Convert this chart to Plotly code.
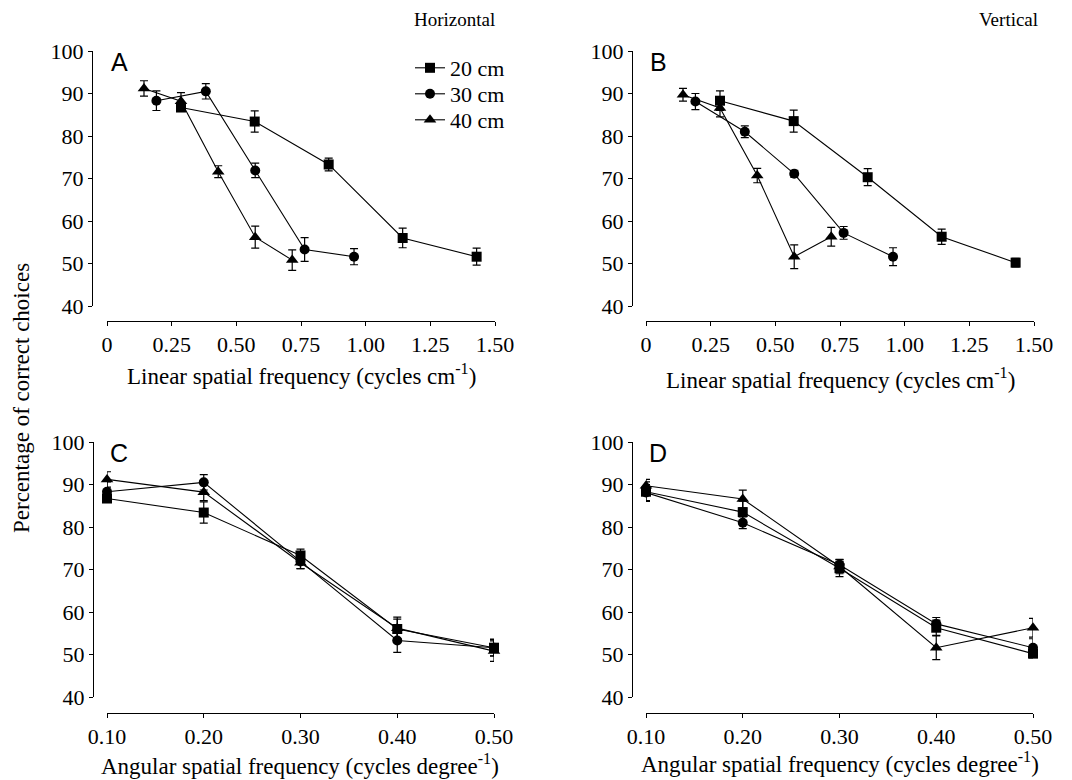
import plotly.graph_objects as go

W, H = 1072, 780
OFF = 8  # page body margin of the html page

# ---------------- data ----------------
distances = ["20 cm", "30 cm", "40 cm"]
symbols = ["square", "circle", "triangle-up"]

angular_freq = [0.10, 0.20, 0.30, 0.40, 0.50]
linear_freq_20 = [0.286, 0.571, 0.857, 1.143, 1.429]
linear_freq_30 = [0.191, 0.382, 0.573, 0.764, 0.955]
linear_freq_40 = [0.143, 0.286, 0.430, 0.573, 0.716]

horiz_20 = [86.7, 83.4, 73.3, 56.0, 51.6]
horiz_20_err = [0.8, 2.5, 1.5, 2.3, 2.0]
horiz_30 = [88.3, 90.5, 71.9, 53.3, 51.6]
horiz_30_err = [2.3, 1.8, 1.7, 2.8, 1.9]
horiz_40 = [91.2, 88.2, 71.6, 56.2, 50.8]
horiz_40_err = [1.8, 2.0, 1.4, 2.6, 2.4]

vert_20 = [88.3, 83.5, 70.3, 56.3, 50.2]
vert_20_err = [2.3, 2.6, 2.0, 1.8, 1.0]
vert_30 = [88.1, 81.0, 71.1, 57.2, 51.6]
vert_30_err = [1.9, 1.4, 0.8, 1.5, 2.1]
vert_40 = [89.7, 86.6, 70.7, 51.6, 56.3]
vert_40_err = [1.5, 2.1, 1.7, 2.8, 2.2]

linear_ticks = [0, 0.25, 0.5, 0.75, 1.0, 1.25, 1.5]
linear_ticktext = ["0", "0.25", "0.50", "0.75", "1.00", "1.25", "1.50"]
angular_ticks = [0.1, 0.2, 0.3, 0.4, 0.5]
angular_ticktext = ["0.10", "0.20", "0.30", "0.40", "0.50"]
y_ticks = [40, 50, 60, 70, 80, 90, 100]

# ---------------- layout helpers ----------------
SERIF = "Liberation Serif, Times New Roman, serif"
SANS = "Liberation Sans, Arial, sans-serif"
TICK_SIZE = 22
TITLE_SIZE = 23


def px(x):
    return (x - OFF) / W


def py(y):
    return 1 - (y - OFF) / H


fig = go.Figure()

panels = [
    ("A", [linear_freq_20, linear_freq_30, linear_freq_40],
     [horiz_20, horiz_30, horiz_40], [horiz_20_err, horiz_30_err, horiz_40_err],
     (107, 495), (51, 306), 92, 321, [0, 1.5], linear_ticks, linear_ticktext),
    ("B", [linear_freq_20, linear_freq_30, linear_freq_40],
     [vert_20, vert_30, vert_40], [vert_20_err, vert_30_err, vert_40_err],
     (646, 1034), (51, 306), 632, 321, [0, 1.5], linear_ticks, linear_ticktext),
    ("C", [angular_freq] * 3,
     [horiz_20, horiz_30, horiz_40], [horiz_20_err, horiz_30_err, horiz_40_err],
     (107, 494), (442, 697), 93, 713, [0.1, 0.5], angular_ticks, angular_ticktext),
    ("D", [angular_freq] * 3,
     [vert_20, vert_30, vert_40], [vert_20_err, vert_30_err, vert_40_err],
     (646, 1033), (442, 697), 632, 713, [0.1, 0.5], angular_ticks, angular_ticktext),
]

legend_names = ["legend", "legend2", "legend3"]
legend_rows = [68, 94, 120]

layout_axes = {}
annotations = []
for i, (name, xs_list, ys_list, errs_list, (x0, x1), (y0, y1), yaxpos, xaxpos,
        xrange_, xt, xtt) in enumerate(panels):
    k = "" if i == 0 else str(i + 1)
    for j in range(3):
        fig.add_trace(go.Scatter(
            x=xs_list[j], y=ys_list[j],
            mode="lines+markers",
            name=distances[j],
            legend=legend_names[j],
            showlegend=(i == 0),
            xaxis="x" + k, yaxis="y" + k,
            line=dict(color="black", width=1.1),
            marker=dict(symbol=symbols[j], size=10 if j != 2 else 11, color="black",
                        line=dict(width=0)),
            error_y=dict(type="data", array=errs_list[j], visible=True,
                         color="black", thickness=1.2, width=4),
            cliponaxis=False,
        ))
    layout_axes["xaxis" + k] = dict(
        domain=[px(x0), px(x1)], anchor="free", position=py(xaxpos),
        range=xrange_, tickvals=xt, ticktext=xtt, automargin=False,
        showline=True, linecolor="black", linewidth=1,
        ticks="outside", ticklen=4, tickcolor="black", tickwidth=1,
        showgrid=False, zeroline=False,
        tickfont=dict(family=SERIF, size=TICK_SIZE, color="black"),
    )
    layout_axes["yaxis" + k] = dict(
        domain=[py(y1), py(y0)], anchor="free", position=px(yaxpos),
        range=[40, 100], tickvals=y_ticks, automargin=False,
        showline=True, linecolor="black", linewidth=1,
        ticks="outside", ticklen=4, tickcolor="black", tickwidth=1,
        showgrid=False, zeroline=False,
        tickfont=dict(family=SERIF, size=TICK_SIZE, color="black"),
    )
    annotations.append(dict(
        text=name, x=px(x0 + 12), y=py(y0 + 11), xref="paper", yref="paper",
        showarrow=False, xanchor="center", yanchor="middle",
        font=dict(family=SANS, size=25, color="black"),
    ))

# axis titles
titles = [
    ("Linear spatial frequency (cycles cm<sup>-1</sup>)", 301, 374),
    ("Linear spatial frequency (cycles cm<sup>-1</sup>)", 840, 378),
    ("Angular spatial frequency (cycles degree<sup>-1</sup>)", 300, 764),
    ("Angular spatial frequency (cycles degree<sup>-1</sup>)", 840, 762),
]
for t, x, y in titles:
    annotations.append(dict(
        text=t, x=px(x), y=py(y), xref="paper", yref="paper",
        showarrow=False, xanchor="center", yanchor="middle",
        font=dict(family=SERIF, size=TITLE_SIZE, color="black"),
    ))

annotations.append(dict(
    text="Percentage of correct choices", x=px(21), y=py(398),
    xref="paper", yref="paper", showarrow=False, textangle=-90,
    xanchor="center", yanchor="middle",
    font=dict(family=SERIF, size=23, color="black"),
))
annotations.append(dict(
    text="Horizontal", x=px(497), y=py(20), xref="paper", yref="paper",
    showarrow=False, xanchor="right", yanchor="middle",
    font=dict(family=SERIF, size=19, color="black"),
))
annotations.append(dict(
    text="Vertical", x=px(1040), y=py(20), xref="paper", yref="paper",
    showarrow=False, xanchor="right", yanchor="middle",
    font=dict(family=SERIF, size=19, color="black"),
))

legend_layout = {}
for j, ln in enumerate(legend_names):
    legend_layout[ln] = dict(
        x=px(410), y=py(legend_rows[j] - 21), xanchor="left", yanchor="top",
        bgcolor="rgba(0,0,0,0)", itemwidth=30, tracegroupgap=0,
        font=dict(family=SERIF, size=22, color="black"),
    )

fig.update_layout(
    width=W, height=H,
    margin=dict(l=0, r=0, t=0, b=0, autoexpand=False),
    paper_bgcolor="white", plot_bgcolor="white",
    showlegend=True,
    annotations=annotations,
    **legend_layout,
    **layout_axes,
)

fig.write_html("out.html")
